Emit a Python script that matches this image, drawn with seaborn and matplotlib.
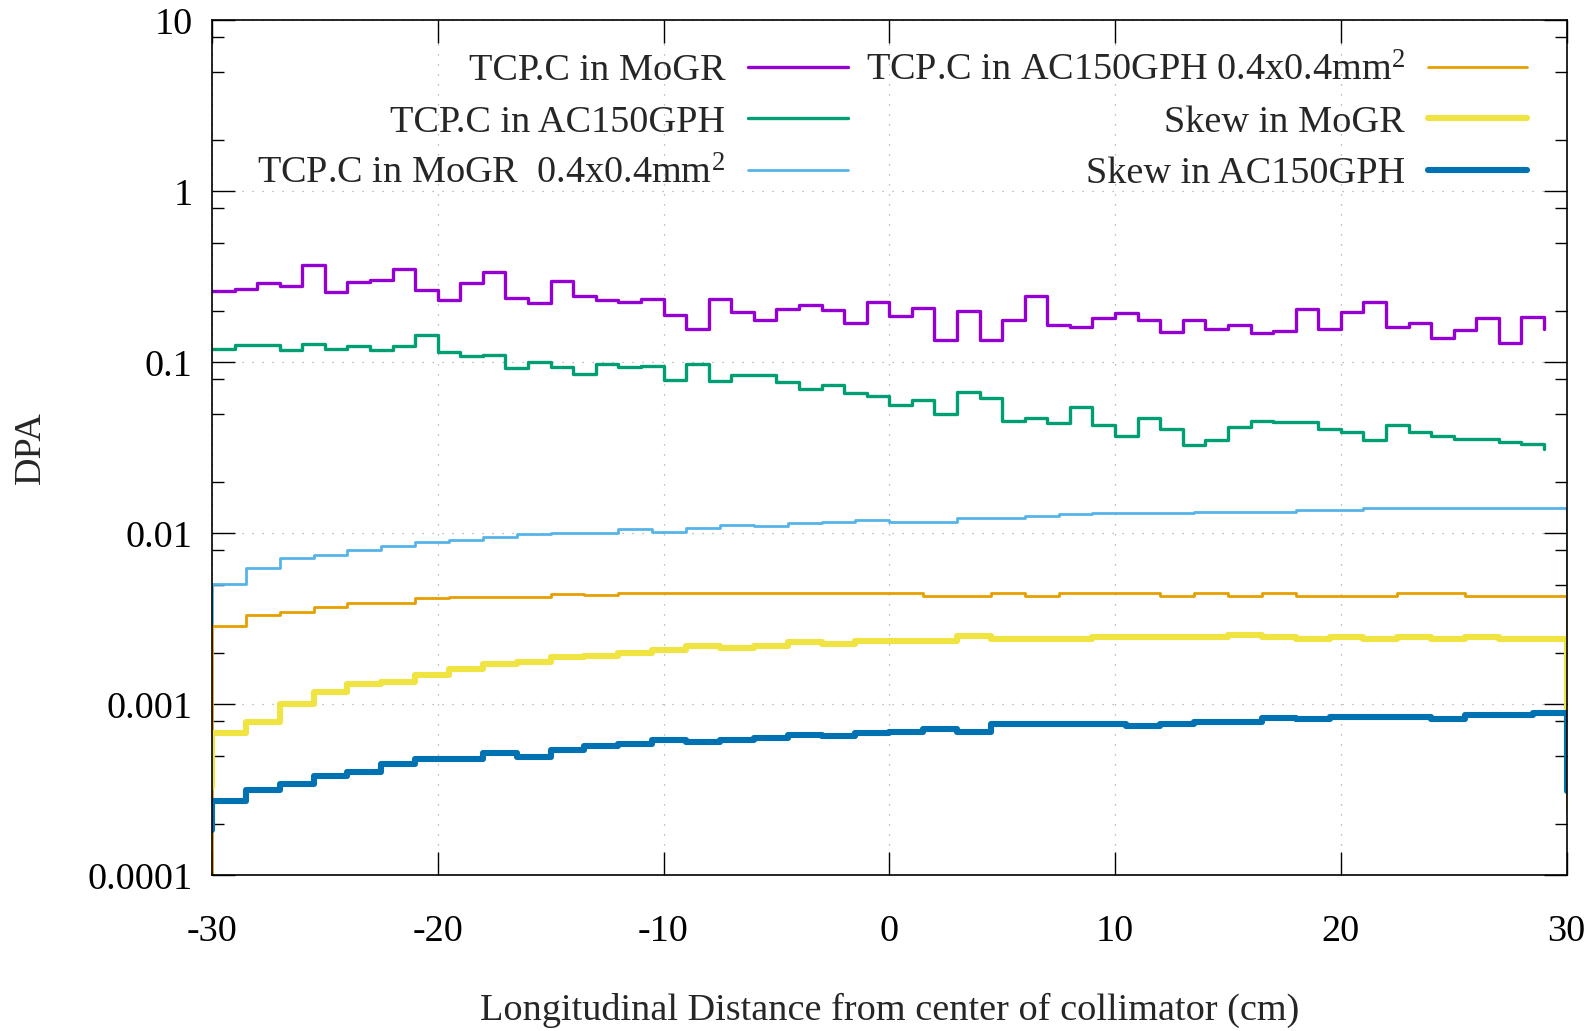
import numpy as np
import matplotlib
matplotlib.use('Agg')
import matplotlib.pyplot as plt
import seaborn as sns
from matplotlib.ticker import LogLocator, NullFormatter, FixedLocator

# ---------------- data ----------------
# 1 cm bins, x = -30 ... 29 (last point only closes the step)
x_fine = np.arange(-30, 30, 1.0)
tcp_mogr = [0.262, 0.269, 0.291, 0.278, 0.369, 0.257, 0.295, 0.302, 0.352, 0.264,
            0.233, 0.291, 0.336, 0.238, 0.222, 0.298, 0.243, 0.233, 0.227, 0.236,
            0.190, 0.157, 0.236, 0.197, 0.178, 0.205, 0.216, 0.2015, 0.170, 0.227,
            0.186, 0.208, 0.136, 0.2006, 0.136, 0.178, 0.243, 0.166, 0.160, 0.182,
            0.194, 0.178, 0.150, 0.178, 0.157, 0.165, 0.1485, 0.153, 0.205, 0.157,
            0.197, 0.227, 0.160, 0.170, 0.139, 0.155, 0.182, 0.129, 0.184, 0.157]
tcp_ac150 = [0.1197, 0.1258, 0.1258, 0.1176, 0.1286, 0.1202, 0.1252, 0.1176, 0.1241, 0.1452,
             0.1145, 0.1085, 0.1109, 0.0927, 0.1005, 0.0939, 0.0855, 0.0978, 0.0935, 0.0956,
             0.0792, 0.0983, 0.0775, 0.0847, 0.0847, 0.0768, 0.0699, 0.0734, 0.0662, 0.0633,
             0.0566, 0.0600, 0.0501, 0.0671, 0.0619, 0.0452, 0.0473, 0.0442, 0.0548, 0.0430,
             0.0369, 0.0473, 0.0408, 0.0330, 0.0353, 0.0417, 0.0456, 0.0446, 0.0446, 0.0408,
             0.0390, 0.0353, 0.0432, 0.0390, 0.0369, 0.0358, 0.0358, 0.0342, 0.0333, 0.0313]

# 1.5 cm bins from -30 to 30; first/last entries are the drop at the edges
x_coarse = np.concatenate([[-30.0], np.arange(-30, 30.01, 1.5)])
tcp_mogr_04 = [0.0029,
               0.00503, 0.00630, 0.00714, 0.00747, 0.00799, 0.00843, 0.00886, 0.00914, 0.00956, 0.00986,
               0.0101, 0.0101, 0.01055, 0.01022, 0.01079, 0.01118, 0.01108, 0.01144, 0.0117, 0.01196,
               0.01159, 0.01159, 0.01223, 0.01223, 0.01262, 0.0129, 0.0132, 0.01308, 0.01308, 0.01338,
               0.01338, 0.01338, 0.01369, 0.01369, 0.01412, 0.0141, 0.0141, 0.0141, 0.0140, 0.0141,
               0.0030]
tcp_ac150_04 = [0.00005,
                0.00287, 0.00333, 0.00348, 0.00369, 0.0039, 0.0039, 0.00417, 0.00426, 0.00426, 0.00426,
                0.00442, 0.00436, 0.00446, 0.00446, 0.00446, 0.00446, 0.00446, 0.00446, 0.00446, 0.00446,
                0.00446, 0.00432, 0.00432, 0.00446, 0.00432, 0.00446, 0.00446, 0.00446, 0.00432, 0.00446,
                0.00432, 0.00446, 0.00432, 0.00432, 0.00432, 0.00446, 0.00446, 0.00432, 0.00432, 0.00432,
                0.00024]
skew_mogr = [0.00033,
             0.000676, 0.000791, 0.001004, 0.001186, 0.001314, 0.001344, 0.001484, 0.001602, 0.00172, 0.00176,
             0.0019, 0.001925, 0.002004, 0.002077, 0.002203, 0.002144, 0.002203, 0.002304, 0.002243, 0.002356,
             0.002356, 0.002356, 0.00252, 0.00241, 0.00241, 0.00241, 0.002486, 0.002486, 0.002486, 0.002486,
             0.002543, 0.002486, 0.00241, 0.002486, 0.00241, 0.002486, 0.00241, 0.002486, 0.00241, 0.00241,
             0.0005]
skew_ac150 = [0.000184,
              0.000273, 0.000315, 0.000342, 0.000382, 0.000404, 0.000448, 0.000477, 0.000477, 0.000517, 0.000494,
              0.00054, 0.00057, 0.000586, 0.000618, 0.000599, 0.000618, 0.000632, 0.000661, 0.000656, 0.000676,
              0.000692, 0.000714, 0.000692, 0.000764, 0.000764, 0.000764, 0.000764, 0.000746, 0.000764, 0.000785,
              0.000785, 0.000836, 0.000818, 0.000839, 0.000839, 0.000839, 0.000818, 0.000862, 0.000862, 0.000893,
              0.00031]

labels = ["TCP.C in MoGR", "TCP.C in AC150GPH", "TCP.C in MoGR  0.4x0.4mm$^{2}$",
          "TCP.C in AC150GPH 0.4x0.4mm$^{2}$", "Skew in MoGR", "Skew in AC150GPH"]
y_ticks = [1e-4, 1e-3, 1e-2, 1e-1, 1, 10]
y_tick_labels = ["0.0001", "0.001", "0.01", "0.1", "1", "10"]
x_ticks = [-30, -20, -10, 0, 10, 20, 30]

# ---------------- style ----------------
sns.set_theme(style='ticks')
plt.rcParams['font.family'] = ['Liberation Serif', 'DejaVu Serif']
plt.rcParams['mathtext.fontset'] = 'custom'
plt.rcParams['mathtext.rm'] = 'Liberation Serif'
plt.rcParams['mathtext.it'] = 'Liberation Serif:italic'
plt.rcParams['axes.edgecolor'] = 'black'

FS = 27.5
fig = plt.figure(figsize=(15.96, 10.31), dpi=100)
ax = fig.add_axes([0.1328, 0.151, 0.8488, 0.8292])

series = [
    (x_fine, tcp_mogr, '#9400D3', 2.4),
    (x_fine, tcp_ac150, '#009E73', 2.4),
    (x_coarse, tcp_mogr_04, '#56B4E9', 2.0),
    (x_coarse, tcp_ac150_04, '#E69F00', 2.0),
    (x_coarse, skew_mogr, '#F0E442', 4.4),
    (x_coarse, skew_ac150, '#0072B2', 4.4),
]
handles = []
for xs, ys, col, lw in series:
    n_before = len(ax.lines)
    sns.lineplot(x=xs, y=ys, ax=ax, color=col, linewidth=lw,
                 drawstyle='steps-post', estimator=None, sort=False,
                 legend=False, errorbar=None)
    handles.append(ax.lines[n_before])

ax.set_yscale('log')
ax.set_xlim(-30, 30)
ax.set_ylim(1e-4, 10)
ax.yaxis.set_major_locator(FixedLocator(y_ticks))
ax.set_yticklabels(y_tick_labels)
ax.yaxis.set_minor_locator(LogLocator(base=10, subs=[2, 5, 8]))
ax.yaxis.set_minor_formatter(NullFormatter())
ax.set_xticks(x_ticks)
ax.set_xticklabels([str(v) for v in x_ticks])

ax.tick_params(which='both', direction='in', top=True, right=True,
               colors='black', width=1.0)
ax.tick_params(which='major', length=16.5, labelsize=FS)
ax.tick_params(which='minor', length=8.5)
ax.tick_params(axis='x', pad=28.5)
ax.tick_params(axis='y', pad=14)
for sp in ax.spines.values():
    sp.set_linewidth(1.2)
    sp.set_color('black')

ax.grid(True, which='major', linestyle=(0, (1, 7)), color='#a8a8a8', linewidth=0.9)

ax.set_xlabel('Longitudinal Distance from center of collimator (cm)', fontsize=FS)
ax.set_ylabel('DPA', fontsize=FS)
ax.xaxis.set_label_coords(0.5, -0.137)
ax.yaxis.set_label_coords(-0.121, 0.5)

leg = ax.legend(handles, labels, ncol=2, markerfirst=False, frameon=False,
                loc='upper right', bbox_to_anchor=(0.9707, 0.962),
                fontsize=FS, handlelength=2.6, handletextpad=0.6,
                columnspacing=0.47, labelspacing=0.44, borderaxespad=0, borderpad=0)

fig.savefig('out.png', dpi=100)
